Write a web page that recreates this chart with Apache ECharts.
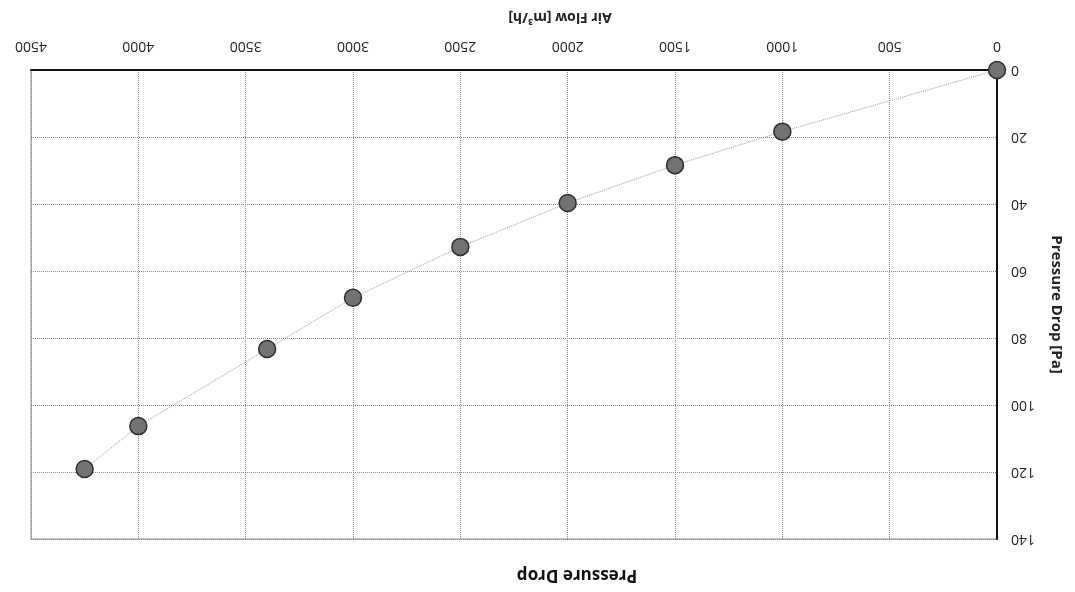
<!DOCTYPE html>
<html>
<head>
<meta charset="utf-8">
<script src="https://cdn.jsdelivr.net/npm/echarts@6/dist/echarts.min.js"></script>
<style>
html,body{margin:0;padding:0;background:#fff;}
#chart{width:1075px;height:592px;}
</style>
</head>
<body>
<div id="chart"></div>
<script>
// Data read from the (upside-down) reference picture
const airFlow = [0, 1000, 1500, 2000, 2500, 3000, 3400, 4000, 4250];
const pressureDrop = [0, 18.4, 28.4, 39.7, 52.8, 68, 83.3, 106.3, 119.1];
const xTicks = { min: 0, max: 4500, interval: 500 };
const yTicks = { min: 0, max: 140, interval: 20 };
const chartTitle = 'Pressure Drop';
const xName = 'Air Flow [m³/h]';
const yName = 'Pressure Drop [Pa]';

const points = airFlow.map((f, i) => [f, pressureDrop[i]]);
const font = "'Open Sans', 'DejaVu Sans', sans-serif";

const chart = echarts.init(document.getElementById('chart'), null, { renderer: 'canvas' });
chart.setOption({
  backgroundColor: '#ffffff',
  animation: false,
  grid: {
    left: 31, right: 78, top: 70, bottom: 53,
    show: true, borderColor: '#8c8c8c', borderWidth: 1
  },
  graphic: [{
    type: 'text',
    x: 577, y: 575,
    rotation: Math.PI,
    style: {
      text: chartTitle,
      font: "bold 17px 'Open Sans', 'DejaVu Sans', sans-serif",
      fill: '#111',
      textAlign: 'center',
      textVerticalAlign: 'middle'
    }
  }],
  xAxis: {
    type: 'value',
    position: 'top',
    inverse: true,
    min: xTicks.min, max: xTicks.max, interval: xTicks.interval,
    name: xName,
    nameLocation: 'middle',
    nameGap: 46,
    nameRotate: 180,
    nameTextStyle: { fontFamily: font, fontSize: 14, fontWeight: 'bold', color: '#222', padding: [0, 92, 0, 0] },
    axisLine: { show: true, lineStyle: { color: '#111', width: 2 } },
    axisTick: { show: false },
    axisLabel: { rotate: 180, margin: 17, fontFamily: font, fontSize: 14, color: '#222', formatter: v => String(v) },
    splitLine: { show: true, lineStyle: { color: '#8a8a8a', type: 'dotted', width: 1 } }
  },
  yAxis: {
    type: 'value',
    position: 'right',
    inverse: true,
    min: yTicks.min, max: yTicks.max, interval: yTicks.interval,
    name: yName,
    nameLocation: 'middle',
    nameGap: 52,
    nameRotate: -90,
    nameTextStyle: { fontFamily: font, fontSize: 15, fontWeight: 'bold', color: '#222' },
    axisLine: { show: true, lineStyle: { color: '#111', width: 2 } },
    axisTick: { show: false },
    axisLabel: { rotate: 180, margin: 14, fontFamily: font, fontSize: 14, color: '#222', formatter: v => String(v) },
    splitLine: { show: true, lineStyle: { color: '#8a8a8a', type: 'dotted', width: 1 } }
  },
  series: [{
    type: 'line',
    data: points,
    symbol: 'circle',
    symbolSize: 17,
    clip: false,
    lineStyle: { color: '#9a9a9a', width: 1, type: 'dotted' },
    itemStyle: { color: '#727272', borderColor: '#2e2e2e', borderWidth: 1.5 }
  }]
});
</script>
</body>
</html>
